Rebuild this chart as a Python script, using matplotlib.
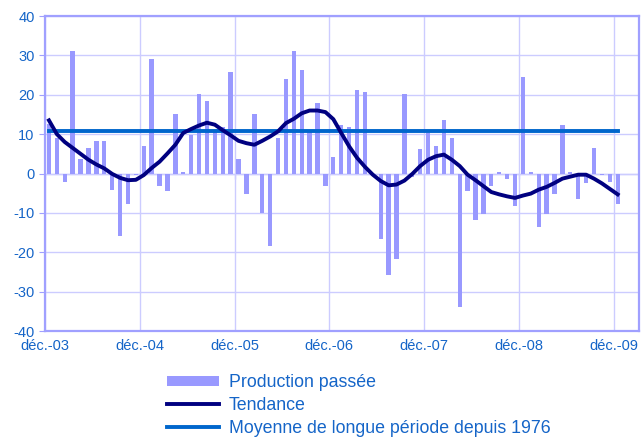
import matplotlib.pyplot as plt
import numpy as np

plt.rcParams['font.family'] = ['Liberation Sans', 'DejaVu Sans']
plt.rcParams['axes.unicode_minus'] = False

# monthly values, déc.-03 .. déc.-09
production = [12.5, 9.0, -2.1, 31.2, 3.6, 6.4, 8.2, 8.2, -4.1, -15.8, -7.7, -0.4,
              6.9, 29.2, -3.1, -4.4, 15.0, 0.3, 9.7, 20.3, 18.3, 11.0, 11.7, 25.9,
              3.6, -5.1, 15.0, -10.1, -18.4, 8.9, 23.9, 31.2, 26.4, 11.0, 17.8, -3.1,
              4.2, 12.4, 11.7, 21.1, 20.6, -0.4, -16.6, -25.9, -21.8, 20.3, -1.0, 6.2,
              10.2, 6.9, 13.7, 8.9, -34.0, -4.5, -11.8, -10.2, -3.1, 0.3, -1.5, -8.2,
              24.4, 0.3, -13.7, -10.2, -5.1, 12.2, 0.3, -6.4, -2.4, 6.4, -0.3, -2.1, -7.7]
tendance = [13.5, 10.0, 8.0, 6.5, 5.0, 3.5, 2.3, 1.3, -0.1, -1.1, -1.7, -1.6,
            -0.4, 1.4, 3.0, 5.1, 7.3, 10.3, 11.3, 12.2, 12.9, 12.4, 11.0, 9.7,
            8.3, 7.7, 7.3, 8.3, 9.4, 10.7, 12.8, 13.9, 15.3, 16.0, 16.0, 15.6,
            13.8, 10.3, 6.9, 4.0, 1.7, -0.3, -1.9, -3.0, -2.8, -1.8, -0.1, 1.9,
            3.5, 4.4, 4.8, 3.5, 1.9, -0.3, -1.7, -3.2, -4.7, -5.3, -5.8, -6.2,
            -5.6, -5.1, -4.1, -3.4, -2.4, -1.3, -0.8, -0.3, -0.3, -1.3, -2.5, -3.9, -5.3]
moyenne = 10.8
tick_labels = ['déc.-03', 'déc.-04', 'déc.-05', 'déc.-06', 'déc.-07', 'déc.-08', 'déc.-09']

blue_txt = '#1565C8'
grid_col = '#CCCCFF'
frame_col = '#A0A0FF'

x = np.arange(len(production)) + 0.5
ticks = np.arange(len(tick_labels)) * 12

fig = plt.figure(figsize=(6.43, 4.4), dpi=100)
ax = fig.add_axes([0.070, 0.2477, 0.9238, 0.7159])

ax.axhline(0, color=grid_col, lw=1, zorder=1)
ax.vlines(ticks, -1.4, 0, color=grid_col, lw=1, zorder=1)
bars = ax.bar(x, production, width=0.55, color='#9999FF', zorder=2, label='Production passée')
l1, = ax.plot(x, tendance, color='#000080', lw=2.8, zorder=4, label='Tendance')
l2, = ax.plot([x[0], x[-1]], [moyenne, moyenne], color='#0066CC', lw=2.8, zorder=3,
              label='Moyenne de longue période depuis 1976')

ax.set_xlim(0, 75.2)
ax.set_ylim(-40, 40)
ax.set_yticks(range(-40, 41, 10))
ax.set_xticks(ticks)
ax.set_xticklabels(tick_labels)
ax.grid(True, color=grid_col, lw=1, zorder=0)
ax.set_axisbelow(True)
for s in ax.spines.values():
    s.set_color(frame_col)
    s.set_linewidth(1.6)
ax.tick_params(axis='y', colors=frame_col, labelcolor=blue_txt, labelsize=10.5, length=4)
ax.tick_params(axis='x', length=0, labelcolor=blue_txt, labelsize=10.5, pad=6)

fig.legend(handles=[bars, l1, l2], loc='upper left', bbox_to_anchor=(0.249, 0.166),
           frameon=False, fontsize=12.8, labelcolor=blue_txt, handlelength=2.9,
           handletextpad=0.55, labelspacing=0.33, borderaxespad=0, handleheight=0.5)

fig.savefig('out.png', dpi=100)
